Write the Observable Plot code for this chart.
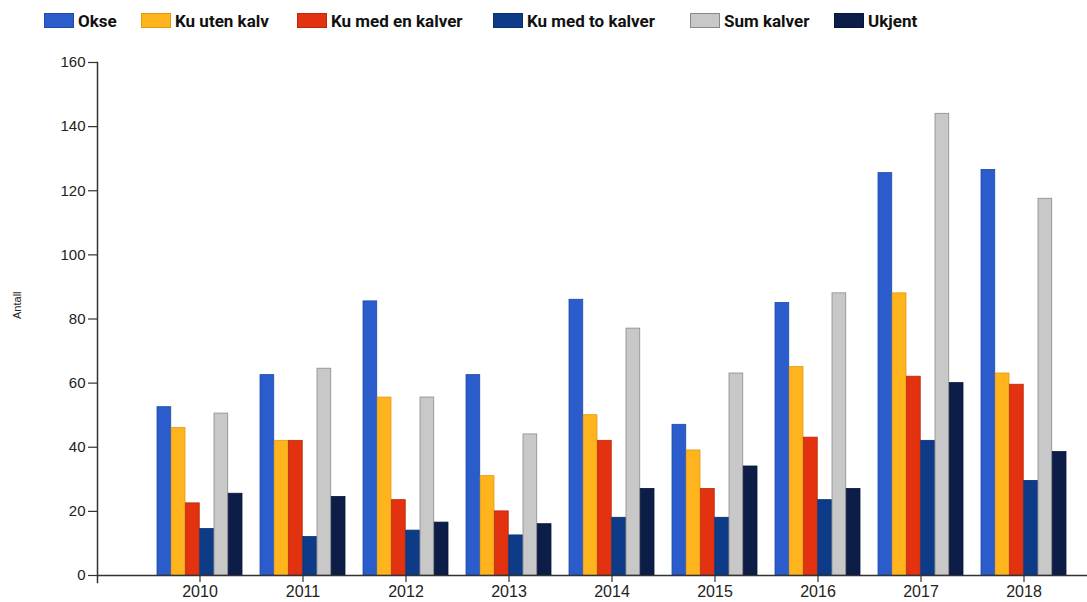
<!DOCTYPE html>
<html>
<head>
<meta charset="utf-8">
<script src="https://cdn.jsdelivr.net/npm/d3@7"></script>
<script src="https://cdn.jsdelivr.net/npm/@observablehq/plot@0.6"></script>
<style>
  html, body { margin: 0; padding: 0; background: #fff; }
  #wrap { position: relative; width: 1087px; height: 602px; overflow: hidden; }
  #legend { position: relative; height: 40px; width: 1087px; }
  .item { position: absolute; top: 12px; display: flex; align-items: center; height: 17px;
          font-family: Roboto, "Liberation Sans", sans-serif;
          font-weight: bold; font-size: 17px; color: #111; white-space: nowrap; }
  .sw { width: 30px; height: 15px; margin-right: 4px; box-sizing: border-box; }
  svg { display: block; }
</style>
</head>
<body>
<div id="wrap">
  <div id="legend"></div>
  <div id="chart"></div>
</div>
<script>
const years = ["2010", "2011", "2012", "2013", "2014", "2015", "2016", "2017", "2018"];
const series = ["Okse", "Ku uten kalv", "Ku med en kalver", "Ku med to kalver", "Sum kalver", "Ukjent"];

const okse          = [52.5, 62.5, 85.5, 62.5, 86, 47, 85, 125.5, 126.5];
const kuUtenKalv    = [46, 42, 55.5, 31, 50, 39, 65, 88, 63];
const kuMedEnKalver = [22.5, 42, 23.5, 20, 42, 27, 43, 62, 59.5];
const kuMedToKalver = [14.5, 12, 14, 12.5, 18, 18, 23.5, 42, 29.5];
const sumKalver     = [50.5, 64.5, 55.5, 44, 77, 63, 88, 144, 117.5];
const ukjent        = [25.5, 24.5, 16.5, 16, 27, 34, 27, 60, 38.5];

const yTicks = [0, 20, 40, 60, 80, 100, 120, 140, 160];

const colors  = ["#2b5ccc", "#ffb41e", "#e2320f", "#0d3b88", "#c8c8c8", "#0c1d48"];
const strokes = ["#1f4aa8", "#e09a10", "#b82a0c", "#0a2f6e", "#8a8a8a", "#08153a"];

const valueArrays = [okse, kuUtenKalv, kuMedEnKalver, kuMedToKalver, sumKalver, ukjent];
const rows = series.flatMap((s, i) => years.map((y, j) => ({year: y, series: s, value: valueArrays[i][j]})));

// legend
const legendX = [44, 141, 297, 493, 690, 834];
const legend = document.getElementById("legend");
series.forEach((s, i) => {
  const it = document.createElement("div");
  it.className = "item";
  it.style.left = legendX[i] + "px";
  const sw = document.createElement("div");
  sw.className = "sw";
  sw.style.background = colors[i];
  sw.style.border = "1px solid " + strokes[i];
  const tx = document.createElement("span");
  tx.textContent = s;
  it.appendChild(sw);
  it.appendChild(tx);
  legend.appendChild(it);
});

const W = 1087, H = 562, mL = 97, mR = 0, mT = 22, mB = 27;
const padIn = 0.17, padOut = 0.39, align = 0.745;
const band = d3.scaleBand().domain(years).range([mL, W - mR]).paddingInner(padIn).paddingOuter(padOut).align(align);
const bw = band.bandwidth() / series.length;

const chart = Plot.plot({
  width: W,
  height: H,
  marginLeft: mL,
  marginRight: mR,
  marginTop: mT,
  marginBottom: mB,
  style: {fontFamily: "'Liberation Sans', Arial, sans-serif", color: "#222", background: "#fff"},
  x: {domain: years, paddingInner: padIn, paddingOuter: padOut, align: align},
  y: {domain: [0, 160]},
  marks: [
    ...series.map((s, i) => Plot.barY(rows.filter(r => r.series === s), {
      x: "year", y: "value", fill: colors[i], stroke: strokes[i], strokeWidth: 0.8,
      insetLeft: i * bw, insetRight: (series.length - 1 - i) * bw
    })),
    Plot.ruleY([0], {stroke: "#333", strokeWidth: 1.5}),
    Plot.frame({anchor: "left", stroke: "#333", strokeWidth: 1.5, insetBottom: -7}),
    Plot.axisY({ticks: yTicks, tickSize: 9, tickPadding: 3, fontSize: 15, label: null, stroke: "#333", strokeWidth: 1.2}),
    Plot.axisX({tickSize: 7, tickPadding: 3, fontSize: 16, label: null, stroke: "#333", strokeWidth: 1.2}),
    Plot.text(["Antall"], {frameAnchor: "left", dx: -80, rotate: -90, fontSize: 11, fill: "#222"})
  ]
});
document.getElementById("chart").appendChild(chart);
</script>
</body>
</html>
